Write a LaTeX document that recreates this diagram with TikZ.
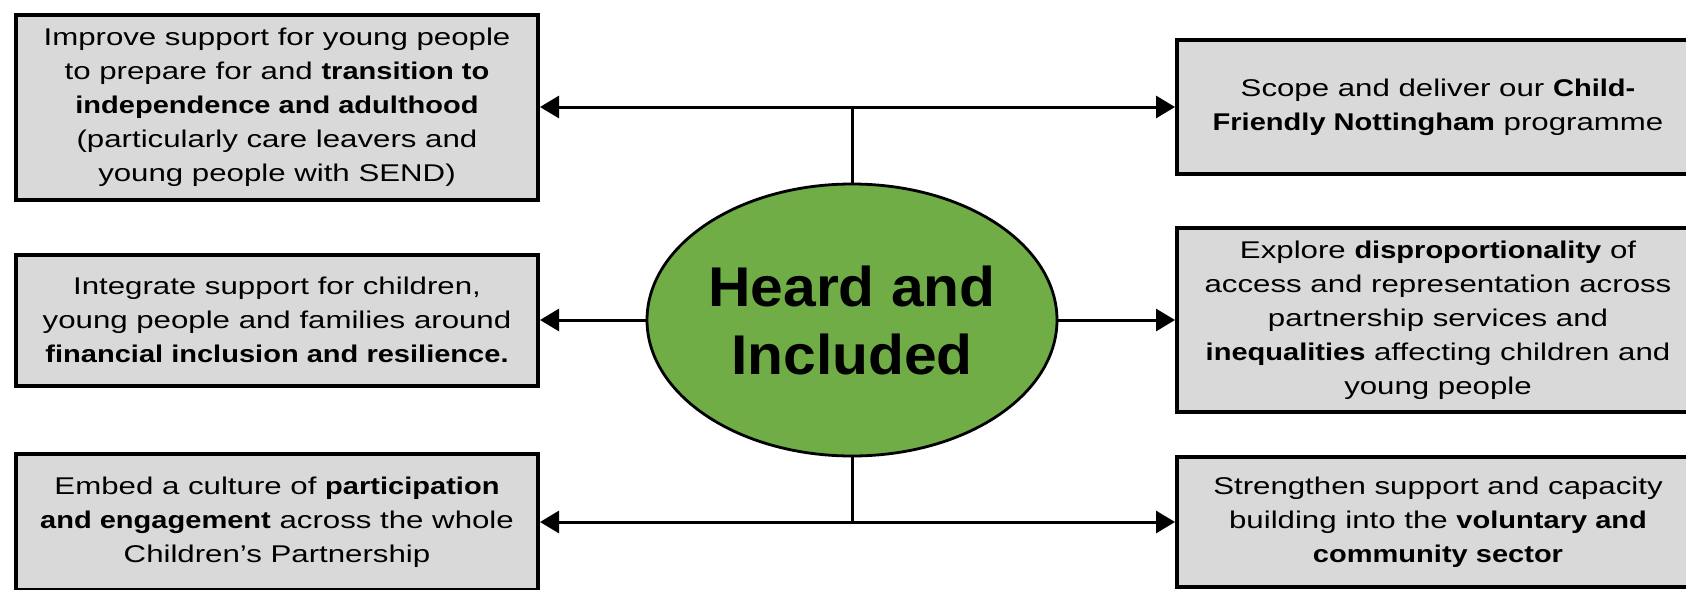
\documentclass[tikz,border=0pt]{standalone}
\usepackage{fontspec}
\setmainfont{Liberation Sans}[FakeStretch=1.29,BoldFeatures={FakeStretch=1.2}]
\newfontfamily\titulofont{Liberation Sans}[FakeStretch=1.05]
\usetikzlibrary{shapes.geometric,arrows.meta}
\definecolor{cajagris}{HTML}{D9D9D9}
\definecolor{verde}{HTML}{70AD47}
\tikzset{
  caja/.style={draw,line width=2pt,fill=cajagris,minimum width=261pt,
    align=center,inner sep=0pt,font=\fontsize{12.1}{17}\selectfont},
  linea/.style={line width=1.5pt},
  flecha/.style={linea,-{Triangle[length=9.5pt,width=11pt]}},
  doble/.style={linea,{Triangle[length=9.5pt,width=11pt]}-{Triangle[length=9.5pt,width=11pt]}},
}
\begin{document}
\begin{tikzpicture}[x=0.5pt,y=-0.5pt]
    \useasboundingbox (0,0) rectangle (1686,589);

    % Cajas izquierda
    \node[caja,minimum height=92.5pt] (L1) at (277,107) {Improve support for young people\\to prepare for and \textbf{transition to}\\\textbf{independence and adulthood}\\(particularly care leavers and\\young people with SEND)};
    \node[caja,minimum height=65.5pt] (L2) at (277,320) {Integrate support for children,\\young people and families around\\\textbf{financial inclusion and resilience.}};
    \node[caja,minimum height=68pt] (L3) at (277,522) {Embed a culture of \textbf{participation}\\\textbf{and engagement} across the whole\\Children’s Partnership};

    % Cajas derecha
    \node[caja,minimum height=67pt] (R1) at (1438,107) {Scope and deliver our \textbf{Child-}\\\textbf{Friendly Nottingham} programme};
    \node[caja,minimum height=92pt] (R2) at (1438,320) {Explore \textbf{disproportionality} of\\access and representation across\\partnership services and\\\textbf{inequalities} affecting children and\\young people};
    \node[caja,minimum height=65pt] (R3) at (1438,522) {Strengthen support and capacity\\building into the \textbf{voluntary and}\\\textbf{community sector}};

    % Elipse central
    \node[ellipse,draw,line width=1.4pt,fill=verde,minimum width=205pt,minimum height=136pt,inner sep=0pt,
      align=center,font=\titulofont\bfseries\fontsize{28}{34}\selectfont] (E) at (852,320) {Heard and\\Included};

    % Conectores
    \draw[doble] (L1) -- (R1);
    \coordinate (T) at (E.north |- L1.east);
    \draw[linea] (E.north) -- (T);
    \draw[flecha] (E) -- (L2);
    \draw[flecha] (E) -- (R2);
    \draw[doble] (L3) -- (R3);
    \coordinate (B) at (E.south |- L3.east);
    \draw[linea] (E.south) -- (B);
\end{tikzpicture}
\end{document}
